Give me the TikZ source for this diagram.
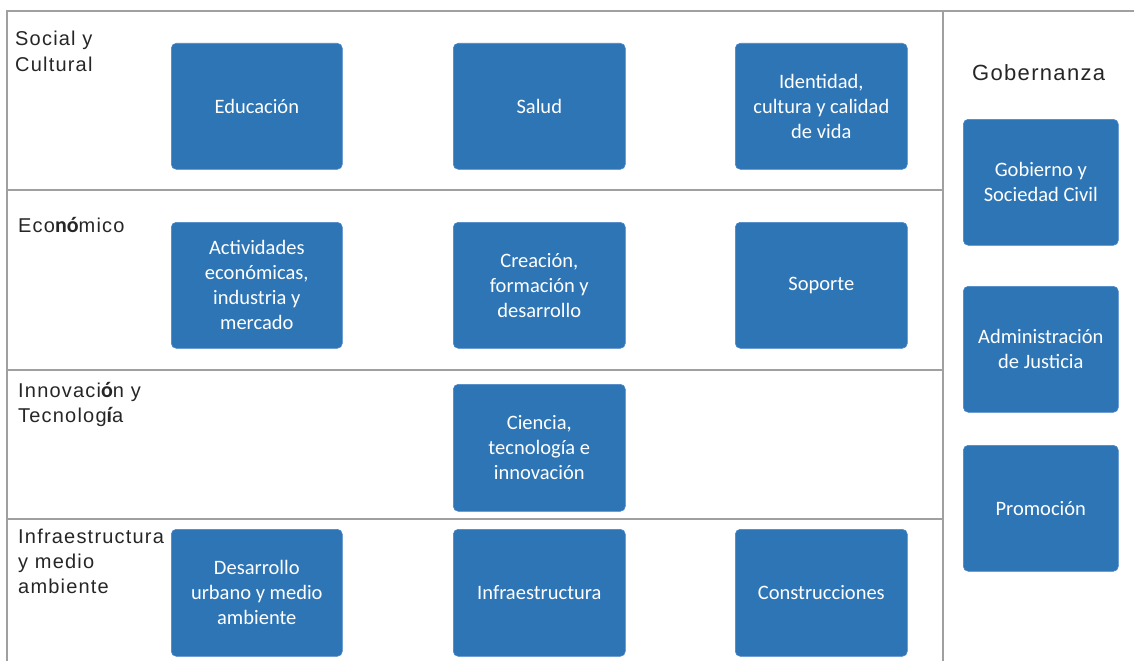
\documentclass[tikz,border=0pt]{standalone}
\usepackage{fontspec}
\setmainfont{Liberation Sans}
\newfontfamily\boxfont{Carlito}
\newfontfamily\accentfont[Scale=1.1]{Carlito}
\newfontfamily\rowfont[LetterSpace=6]{Liberation Sans}
\definecolor{boxblue}{HTML}{2E75B6}
\definecolor{boxedge}{HTML}{4A86C8}
\definecolor{gridgray}{HTML}{A0A0A0}
\definecolor{labelgray}{HTML}{262626}
\newcommand{\bnote}[1]{{\accentfont\bfseries #1}}
\begin{document}
\begin{tikzpicture}[x=1pt,y=-1pt,
  areabox/.style={draw=boxedge, line width=0.6pt, fill=boxblue, rounded corners=5pt,
    anchor=north west, text=white, align=center,
    font=\boxfont\fontsize{20.5}{25}\selectfont, inner sep=0pt},
  rowlabel/.style={anchor=base west, align=left, inner sep=0pt, text=labelgray,
    font=\rowfont\fontsize{20}{25}\selectfont},
  grid/.style={draw=gridgray, line width=1.8pt}]
\useasboundingbox (0,0) rectangle (1134,661);

% frame of the table
\coordinate (tl) at (7,11);
\coordinate (tr) at (1134,11);
\coordinate (bl) at (7,661);
\coordinate (dt) at (943,11);
\coordinate (db) at (943,661);
\coordinate (h1l) at (7,190);  \coordinate (h1r) at (943,190);
\coordinate (h2l) at (7,370);  \coordinate (h2r) at (943,370);
\coordinate (h3l) at (7,519);  \coordinate (h3r) at (943,519);
\draw[grid] (tr) -- (tl) -- (bl);
\draw[grid] (dt) -- (db);
\draw[grid] (h1l) -- (h1r);
\draw[grid] (h2l) -- (h2r);
\draw[grid] (h3l) -- (h3r);

% row headings (anchored on the baseline of their last line)
\node[rowlabel] (lsoc) at (15,71) {Social y\\Cultural};
\node[rowlabel] (leco) at (18,232) {Eco\bnote{nó}mico};
\node[rowlabel] (linn) at (18,422) {Innovaci\bnote{ó}n y\\Tecnolog\bnote{í}a};
\node[rowlabel] (linf) at (18,593) {Infraestructura\\y medio\\ambiente};
\node[rowlabel, font=\rowfont\fontsize{22}{26}\selectfont] (lgob) at (972,81) {Gobernanza};

% social and cultural
\node[areabox, minimum width=171pt, minimum height=126pt] (edu) at (171,43) {Educación};
\node[areabox, minimum width=172pt, minimum height=126pt] (sal) at (453,43) {Salud};
\node[areabox, minimum width=172pt, minimum height=126pt] (ide) at (735,43) {Identidad,\\cultura y calidad\\de vida};

% economic
\node[areabox, minimum width=171pt, minimum height=126pt] (act) at (171,222) {Actividades\\económicas,\\industria y\\mercado};
\node[areabox, minimum width=172pt, minimum height=126pt] (cre) at (453,222) {Creación,\\formación y\\desarrollo};
\node[areabox, minimum width=172pt, minimum height=126pt] (sop) at (735,222) {Soporte};

% innovation and technology
\node[areabox, minimum width=172pt, minimum height=127pt] (cie) at (453,384) {Ciencia,\\tecnología e\\innovación};

% infrastructure and environment
\node[areabox, minimum width=171pt, minimum height=127pt] (urb) at (171,529) {Desarrollo\\urbano y medio\\ambiente};
\node[areabox, minimum width=172pt, minimum height=127pt] (inf) at (453,529) {Infraestructura};
\node[areabox, minimum width=172pt, minimum height=127pt] (con) at (735,529) {Construcciones};

% governance
\node[areabox, minimum width=155pt, minimum height=126pt] (gob) at (963,119) {Gobierno y\\Sociedad Civil};
\node[areabox, minimum width=155pt, minimum height=126pt] (adm) at (963,286) {Administración\\de Justicia};
\node[areabox, minimum width=155pt, minimum height=126pt] (pro) at (963,445) {Promoción};
\end{tikzpicture}
\end{document}
